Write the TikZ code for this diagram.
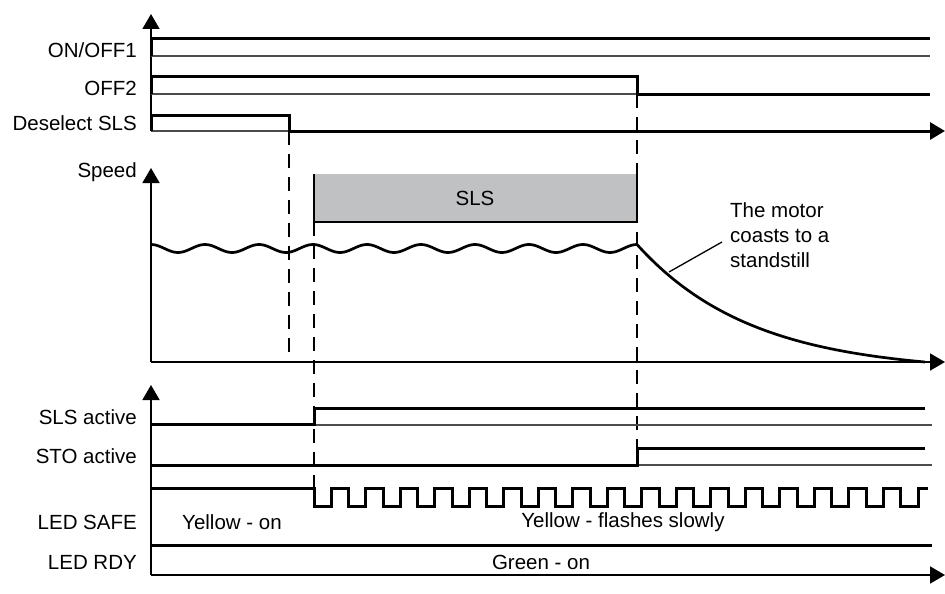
\documentclass[tikz,border=0pt]{standalone}
\usepackage{fontspec}
\setmainfont{Liberation Sans}
\usepackage{xcolor}
\usepackage{tikz}
\usetikzlibrary{arrows.meta, calc}

\definecolor{slsgray}{RGB}{191,193,195}

\tikzset{
  sig/.style={line width=3pt},
  refline/.style={line width=1.2pt, black!70},
  axisline/.style={line width=1.7pt},
  guide/.style={line width=1.2pt, dash pattern=on 14pt off 9pt},
  tip/.style={-{Triangle[length=15pt,width=17pt]}},
  lbl/.style={font=\fontsize{20.5}{25}\selectfont, inner sep=2pt},
}

\begin{document}
\begin{tikzpicture}[x=1pt,y=-1pt]
            \useasboundingbox (0,0) rectangle (945,594);

            % dashed guide lines
            \draw[guide] (289,131) -- (289,362);
            \draw[guide] (314,222) -- (314,488);
            \draw[guide] (637,94) -- (637,448);

            % Draw axes
            \draw[axisline,tip] (151,131) -- (151,14);
            \draw[axisline,tip] (151,362) -- (151,168);
            \draw[axisline,tip] (151,362) -- (945,362);
            \draw[axisline,tip] (151,575) -- (151,385);
            \draw[axisline,tip] (151,575) -- (945,575);

            % top signals
            \draw[refline] (151,56) -- (930,56);
            \draw[sig] (151,56) -- (151,39) -- (930,39);
            \draw[refline] (151,94) -- (637,94);
            \draw[sig] (151,94) -- (151,77) -- (637,77) -- (637,94) -- (930,94);
            \draw[refline] (151,131) -- (289,131);
            \draw[sig,tip] (151,131) -- (151,115) -- (289,115) -- (289,131) -- (945,131);

            % SLS limit
            \fill[slsgray] (314,174) rectangle (637,222);
            \draw[line width=1.4pt] (314,174) -- (314,222) -- (637,222) -- (637,174);
            \node[lbl] (sls) at (475,198) {SLS};

            % Draw speed
            \draw[line width=2.7pt] plot[domain=151:637, samples=200]
              (\x, {248.5-4*cos(((\x-151)/54)*360)});
            \draw[line width=2.7pt] plot[domain=637:925, samples=80]
              (\x, {362-117.5*(exp(-(\x-637)/115)-0.0818)/0.9182});
            \coordinate (coastpt) at (669,272);
            \node[lbl, anchor=west, align=left] (coast) at (728,235)
              {The motor\\coasts to a\\standstill};
            \draw[line width=1.3pt] ([yshift=-7pt,xshift=-6pt]coast.west) -- (coastpt);

            % bottom signals
            \draw[refline] (314,425) -- (932,425);
            \draw[sig] (151,424) -- (314,424) -- (314,408) -- (925,408);
            \draw[refline] (637,465) -- (932,465);
            \draw[sig] (151,465) -- (637,465) -- (637,448) -- (925,448);
            \draw[sig] (151,488) -- (314,488)
              \foreach \i in {0,...,16} { -- ++(0,18) -- ++(17.25,0) -- ++(0,-18) -- ++(17.25,0) }
              -- ++(0,18) -- ++(17.5,0) -- ++(0,-18) -- (928,488);
            \draw[sig] (151,545) -- (932,545);

            % % Add labels
            \node[lbl, anchor=east] (onoff) at (139,50) {ON/OFF1};
            \node[lbl, anchor=east] (offtwo) at (139,88) {OFF2};
            \node[lbl, anchor=east] (desel) at (139,123) {Deselect SLS};
            \node[lbl, anchor=east] (speed) at (139,172) {Speed};
            \node[lbl, anchor=east] (slsact) at (139,417) {SLS active};
            \node[lbl, anchor=east] (stoact) at (139,456) {STO active};
            \node[lbl, anchor=east] (ledsafe) at (139,522) {LED SAFE};
            \node[lbl, anchor=east] (ledrdy) at (139,562) {LED RDY};
            \node[lbl] (yelon) at (232,522) {Yellow - on};
            \node[lbl] (yelflash) at (623,522) {Yellow - flashes slowly};
            \node[lbl] (greenon) at (541,562) {Green - on};
\end{tikzpicture}
\end{document}
